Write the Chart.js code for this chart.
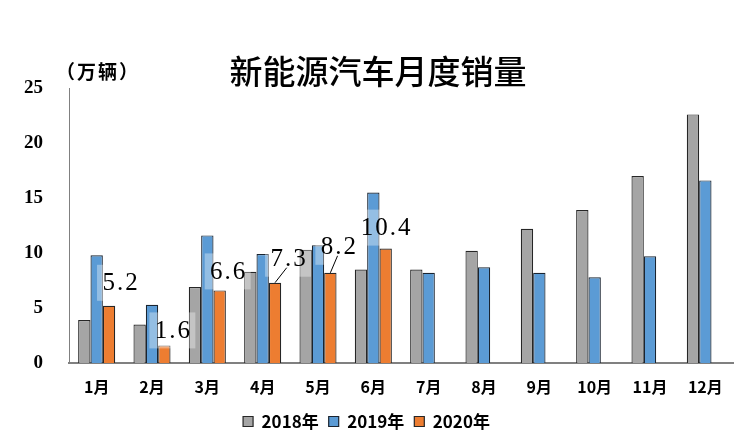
<!DOCTYPE html>
<html>
<head>
<meta charset="utf-8">
<script src="https://cdn.jsdelivr.net/npm/chart.js@4"></script>
<style>
html,body{margin:0;padding:0;background:#fff;}
#wrap{width:755px;height:448px;}
</style>
</head>
<body>
<div id="wrap"><canvas id="c" width="755" height="448"></canvas></div>
<script>
const months = ['1月','2月','3月','4月','5月','6月','7月','8月','9月','10月','11月','12月'];
const seriesNames = ['2018年','2019年','2020年'];
const sales2018 = [3.9, 3.5, 6.9, 8.3, 10.3, 8.5, 8.5, 10.2, 12.2, 13.9, 17.0, 22.6];
const sales2019 = [9.8, 5.3, 11.6, 9.9, 10.7, 15.5, 8.2, 8.7, 8.2, 7.8, 9.7, 16.6];
const sales2020 = [5.2, 1.6, 6.6, 7.3, 8.2, 10.4, null, null, null, null, null, null];
const yTicks = [0, 5, 10, 15, 20, 25];
const titleText = '新能源汽车月度销量';
const unitText = '（万辆）';

const CJK = '"Noto Sans CJK SC", sans-serif';
const NUM = '"Liberation Serif", "DejaVu Serif", serif';

const labelPlugin = {
  id: 'labels2020',
  afterDatasetsDraw(chart) {
    const ctx = chart.ctx;
    const meta = chart.getDatasetMeta(2);
    // offsets of label centre from bar centre-x / bar-top
    const offs = [[11,-23],[8,-15],[8,-19],[13,-24],[8,-26],[0,-21]];
    const leader = [false,false,false,true,true,false];
    ctx.save();
    meta.data.forEach((el, i) => {
      const v = sales2020[i];
      if (v === null || v === undefined) return;
      const o = offs[i] || [0,-20];
      const cx = el.x + o[0], cy = el.y + o[1];
      ctx.fillStyle = 'rgba(255,255,255,0.35)';
      ctx.fillRect(cx - 23, cy - 18, 46, 36);
      if (leader[i]) {
        ctx.strokeStyle = '#000';
        ctx.lineWidth = 1;
        ctx.beginPath();
        ctx.moveTo(el.x, el.y);
        ctx.lineTo(el.x + o[0] * 0.9, cy + 9);
        ctx.stroke();
      }
      ctx.fillStyle = '#000';
      ctx.font = '25px ' + NUM;
      ctx.letterSpacing = '2px';
      ctx.textAlign = 'center';
      ctx.textBaseline = 'middle';
      ctx.fillText(v.toFixed(1), cx + 1, cy + 1);
    });
    ctx.restore();
  }
};

const titlePlugin = {
  id: 'titles',
  afterDraw(chart) {
    const ctx = chart.ctx;
    ctx.save();
    ctx.fillStyle = '#000';
    ctx.textBaseline = 'middle';
    ctx.textAlign = 'center';
    ctx.font = '500 33px ' + CJK;
    ctx.fillText(titleText, 378, 71);
    ctx.textAlign = 'left';
    ctx.font = 'bold 19px ' + CJK;
    ctx.letterSpacing = '2px';
    ctx.fillText(unitText, 56, 72);
    ctx.restore();
  }
};

new Chart(document.getElementById('c'), {
  type: 'bar',
  data: {
    labels: months,
    datasets: [
      {label: seriesNames[0], data: sales2018, backgroundColor: '#A5A5A5', borderColor: '#262626', borderWidth: 1.2},
      {label: seriesNames[1], data: sales2019, backgroundColor: '#5B9BD5', borderColor: '#1a2430', borderWidth: 1.2},
      {label: seriesNames[2], data: sales2020, backgroundColor: '#ED7D31', borderColor: '#262626', borderWidth: 1.2}
    ]
  },
  options: {
    responsive: false,
    animation: false,
    devicePixelRatio: 1,
    layout: {padding: {left: 0, right: 22, top: 88, bottom: 8}},
    datasets: {bar: {barPercentage: 1.0, categoryPercentage: 0.67}},
    plugins: {
      title: {display: false},
      tooltip: {enabled: false},
      legend: {
        position: 'bottom',
        labels: {
          boxWidth: 10, boxHeight: 10, padding: 10,
          color: '#000',
          font: {family: CJK, size: 17, weight: 'bold'}
        }
      }
    },
    scales: {
      x: {
        grid: {display: false, drawTicks: false},
        border: {display: true, color: '#808080', width: 2},
        ticks: {color: '#000', padding: 14, font: {family: CJK, size: 16, weight: 'bold'}},
        afterFit(s) { s.height = 40; }
      },
      y: {
        min: 0, max: 25,
        afterBuildTicks(s) { s.ticks = yTicks.map(v => ({value: v})); },
        grid: {display: false, drawTicks: false},
        border: {display: true, color: '#808080', width: 1},
        ticks: {color: '#000', padding: 26, font: {family: NUM, size: 19, weight: 'bold'}},
        afterFit(s) { s.width = 69; }
      }
    }
  },
  plugins: [labelPlugin, titlePlugin]
});
</script>
</body>
</html>
